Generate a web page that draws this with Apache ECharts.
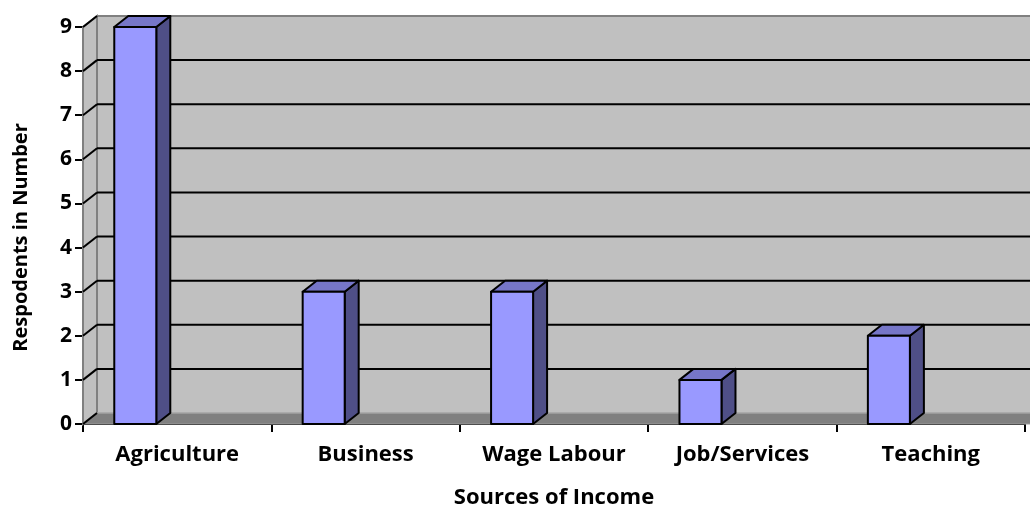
<!DOCTYPE html>
<html><head><meta charset="utf-8">
<script src="https://cdn.jsdelivr.net/npm/echarts@6/dist/echarts.min.js"></script>
<style>html,body{margin:0;padding:0;background:#fff}#c{width:1030px;height:510px}</style>
</head><body><div id="c"></div>
<script>
var categories = ['Agriculture', 'Business', 'Wage Labour', 'Job/Services', 'Teaching'];
var respondents = [9, 3, 3, 1, 2];
var yTicks = [0, 1, 2, 3, 4, 5, 6, 7, 8, 9];

var DX = 14, DY = -11;
var FONT = 'Open Sans';
var chart = echarts.init(document.getElementById('c'), null, {renderer: 'canvas'});

function renderWalls(params, api) {
  var cs = params.coordSys;
  var x0 = cs.x, x1 = cs.x + cs.width + 40;
  var yTop = cs.y, yBot = cs.y + cs.height;
  var children = [];
  children.push({type: 'rect', shape: {x: x0 + DX, y: yTop + DY, width: x1 - x0, height: cs.height},
    style: {fill: '#c0c0c0', stroke: null}});
  children.push({type: 'polygon', shape: {points: [[x0, yTop], [x0 + DX, yTop + DY], [x0 + DX, yBot + DY], [x0, yBot]]},
    style: {fill: '#c0c0c0', stroke: '#808080', lineWidth: 2}});
  children.push({type: 'polygon', shape: {points: [[x0, yBot], [x0 + DX, yBot + DY], [x1 + DX, yBot + DY], [x1, yBot]]},
    style: {fill: '#808080', stroke: '#9a9a9a', lineWidth: 1}});
  children.push({type: 'line', shape: {x1: x0 + DX, y1: yTop + DY, x2: x1 + DX, y2: yTop + DY},
    style: {stroke: '#808080', lineWidth: 2}});
  for (var i = 1; i < yTicks.length; i++) {
    var p = api.coord([0, yTicks[i]]);
    var yy = p[1];
    if (i < yTicks.length - 1) {
      children.push({type: 'line', shape: {x1: x0 + DX, y1: yy + DY, x2: x1 + DX, y2: yy + DY},
        style: {stroke: '#000', lineWidth: 2}});
    }
    children.push({type: 'line', shape: {x1: x0, y1: yy, x2: x0 + DX, y2: yy + DY},
      style: {stroke: '#000', lineWidth: 2}});
  }
  children.push({type: 'line', shape: {x1: x0 + DX, y1: yBot + DY, x2: x1 + DX, y2: yBot + DY},
    style: {stroke: '#a8a8a8', lineWidth: 1}});
  children.push({type: 'line', shape: {x1: x0, y1: yBot, x2: x0 + DX, y2: yBot + DY},
    style: {stroke: '#000', lineWidth: 2}});
  children.push({type: 'line', shape: {x1: x1, y1: yBot, x2: x1 + DX, y2: yBot + DY},
    style: {stroke: '#000', lineWidth: 2}});
  return {type: 'group', children: children};
}

function renderBar(params, api) {
  var idx = api.value(0), v = api.value(1);
  var band = api.size([1, 0])[0];
  var c = api.coord([idx, v]);
  var b = api.coord([idx, 0]);
  var w = band * 0.223;
  var x = c[0] - band * 0.334;
  var yT = c[1], yB = b[1];
  var st = {stroke: '#000', lineWidth: 2, lineJoin: 'round'};
  return {type: 'group', children: [
    {type: 'polygon', shape: {points: [[x + w, yT], [x + w + DX, yT + DY], [x + w + DX, yB + DY], [x + w, yB]]},
      style: Object.assign({fill: '#4f4f87'}, st)},
    {type: 'polygon', shape: {points: [[x, yT], [x + DX, yT + DY], [x + w + DX, yT + DY], [x + w, yT]]},
      style: Object.assign({fill: '#7676c8'}, st)},
    {type: 'rect', shape: {x: x, y: yT, width: w, height: yB - yT},
      style: Object.assign({fill: '#9999ff'}, st)}
  ]};
}

chart.setOption({
  animation: false,
  backgroundColor: '#ffffff',
  grid: {left: 83, right: 5, top: 27, bottom: 86, containLabel: false, outerBoundsMode: 'none'},
  xAxis: {
    type: 'category', data: categories,
    name: 'Sources of Income', nameLocation: 'middle', nameGap: 63,
    nameTextStyle: {fontFamily: FONT, fontWeight: 'bold', fontSize: 22, color: '#000'},
    axisLine: {show: true, lineStyle: {color: '#000', width: 2}},
    axisTick: {show: true, length: 8, lineStyle: {color: '#000', width: 2}},
    axisLabel: {fontFamily: FONT, fontWeight: 'bold', fontSize: 22, color: '#000', margin: 20},
    splitLine: {show: false}
  },
  yAxis: {
    type: 'value', min: 0, max: 9, interval: 1,
    name: 'Respodents in Number', nameLocation: 'middle', nameGap: 52, nameRotate: 90,
    nameTextStyle: {fontFamily: FONT, fontWeight: 'bold', fontSize: 20, color: '#000', padding: [0, 24, 0, 0]},
    axisLine: {show: true, lineStyle: {color: '#000', width: 2}},
    axisTick: {show: true, length: 8, lineStyle: {color: '#000', width: 2}},
    axisLabel: {fontFamily: FONT, fontWeight: 'bold', fontSize: 21, color: '#000', margin: 11},
    splitLine: {show: false}
  },
  series: [
    {type: 'custom', renderItem: renderWalls, data: [[0, 0]], z: 1, silent: true, clip: false},
    {type: 'custom', renderItem: renderBar, data: respondents.map(function (v, i) { return [i, v]; }), z: 3, clip: false}
  ]
});
</script></body></html>
